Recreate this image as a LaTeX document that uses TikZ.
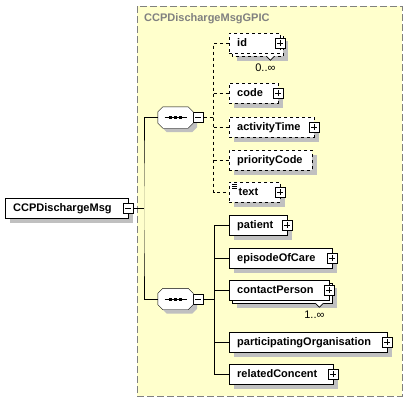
\documentclass[tikz,border=0pt]{standalone}
\usepackage{fontspec}
\setmainfont{Liberation Sans}
\definecolor{groupfill}{HTML}{FFFFCC}
\definecolor{shadowgray}{HTML}{C0C0C0}
\definecolor{titlegray}{HTML}{808080}
\pgfdeclarelayer{bg}
\pgfdeclarelayer{shade}
\pgfsetlayers{bg,shade,main}
\newcommand{\seqoutline}[1]{([xshift=5pt]#1.north west) -- ([xshift=-5pt]#1.north east)
  -- ([yshift=-5pt]#1.north east) -- ([yshift=5pt]#1.south east)
  -- ([xshift=-5pt]#1.south east) -- ([xshift=5pt]#1.south west)
  -- ([yshift=5pt]#1.south west) -- ([yshift=-5pt]#1.north west) -- cycle}

\begin{document}
\begin{tikzpicture}[x=1pt,y=-1pt,line width=0.9pt,
    elem/.style={draw,fill=white,anchor=west,minimum height=20pt,inner xsep=8pt,inner ysep=0pt,
      text height=8pt,text depth=2pt,align=left,font=\fontsize{11}{13}\selectfont\bfseries},
    opt/.style={dashed},
    boxsign/.style={draw,solid,fill=white,minimum size=10pt,inner sep=0pt,line width=0.8pt},
    plusbox/.style={boxsign,anchor=center,label distance=0pt,
      path picture={\draw ([xshift=-3pt]path picture bounding box.center) -- ([xshift=3pt]path picture bounding box.center);
        \draw ([yshift=-3pt]path picture bounding box.center) -- ([yshift=3pt]path picture bounding box.center);}},
    minusbox/.style={boxsign,
      path picture={\draw ([xshift=-3pt]path picture bounding box.center) -- ([xshift=3pt]path picture bounding box.center);}},
    plus/.style={label={[plusbox]east:}},
    seqbox/.style={minimum width=35pt,minimum height=21pt,inner sep=0pt},
    notch/.style={fill=white,line width=0.7pt},
    card/.style={inner sep=0pt,font=\fontsize{11}{13}\selectfont},
    groupbox/.style={draw=titlegray,fill=groupfill,dash pattern=on 7pt off 3pt,line width=0.9pt}]

  \useasboundingbox (0,0) rectangle (407,402);

  % group
  \begin{pgfonlayer}{bg}
    \draw[groupbox] (137,6) rectangle (402,396);
  \end{pgfonlayer}
  \node[anchor=west,inner sep=0pt,text=titlegray,font=\fontsize{11}{13}\selectfont\bfseries] (title) at (144,19) {CCPDischargeMsgGPIC};

  % root element
  \node[elem,text width=107pt,label={[minusbox,name=mainminus,anchor=center,label distance=0pt]east:}] (main) at (5,208) {CCPDischargeMsg};

  % compositors
  \node[seqbox,label={[minusbox,name=seqaminus,anchor=west,label distance=-0.5pt]east:}] (seqa) at (175.5,117.5) {};
  \node[seqbox,label={[minusbox,name=seqbminus,anchor=west,label distance=-0.5pt]east:}] (seqb) at (175.5,299) {};
  \foreach \s in {seqa,seqb} {
    \draw[fill=white] \seqoutline{\s};
    \draw ([xshift=-11pt]\s.center) -- ([xshift=11pt]\s.center);
    \foreach \d in {-5,0,5}
      \fill ([xshift=\d pt]\s.center) +(-1.5,-1.5) rectangle +(1.5,1.5);
  }

  % first sequence (optional children)
  \node[elem,opt,plus,text width=35pt] (id) at (229,43) {id};
  \node[elem,opt,plus,text width=33pt] (code) at (229,93) {code};
  \node[elem,opt,plus,text width=69pt] (activityTime) at (229,127) {activityTime};
  \node[elem,opt,text width=67pt] (priorityCode) at (229,160) {priorityCode};
  \node[elem,opt,plus,text width=32pt,inner xsep=9.5pt] (txt) at (229,192) {text};

  % second sequence
  \node[elem,plus,text width=42pt] (patient) at (229,225) {patient};
  \node[elem,plus,text width=87pt] (episodeOfCare) at (229,258) {episodeOfCare};
  \node[elem,plus,text width=84pt] (contactPerson) at (229,290) {contactPerson};
  \node[elem,plus,text width=142pt] (participatingOrganisation) at (229,342) {participatingOrganisation};
  \node[elem,plus,text width=88pt] (relatedConcent) at (229,374) {relatedConcent};

  % shadows and stacked copies
  \begin{pgfonlayer}{shade}
    \foreach \n in {main,code,activityTime,priorityCode,txt,patient,episodeOfCare,participatingOrganisation,relatedConcent}
      \fill[shadowgray] ([shift={(5,5)}]\n.north west) rectangle ([shift={(5,5)}]\n.south east);
    \foreach \n/\d in {id/dashed,contactPerson/solid} {
      \fill[shadowgray] ([shift={(8,8)}]\n.north west) rectangle ([shift={(8,8)}]\n.south east);
      \draw[fill=white,\d] ([shift={(3,3)}]\n.north west) rectangle ([shift={(3,3)}]\n.south east);
    }
    \node[seqbox] (seqashadow) at ([shift={(4,4)}]seqa.center) {};
    \node[seqbox] (seqbshadow) at ([shift={(4,4)}]seqb.center) {};
    \foreach \s in {seqashadow,seqbshadow}
      \fill[shadowgray] \seqoutline{\s};
  \end{pgfonlayer}

  % mixed content mark
  \foreach \k in {2,4,6}
    \draw[line width=0.6pt] ([shift={(3,\k)}]txt.north west) -- ++(5,0);

  % occurrence marks
  \coordinate (idnotch) at ([shift={(-10,3)}]id.south east);
  \draw[notch] (idnotch) +(-4,0) -- +(0,4) -- +(4,0);
  \node[card] (idcard) at ([shift={(-5,12)}]idnotch) {0..∞};
  \coordinate (cpnotch) at ([shift={(-10,3)}]contactPerson.south east);
  \draw[notch] (cpnotch) +(-4,0) -- +(0,4) -- +(4,0);
  \node[card] (cpcard) at ([shift={(-5,12)}]cpnotch) {1..∞};

  % connectors
  \coordinate (trunk) at ([xshift=10pt]mainminus.east);
  \draw (mainminus.east) -- (trunk);
  \draw (seqa.west) -| (trunk) |- (seqb.west);

  \coordinate (busa) at ([xshift=10pt]seqaminus.east);
  \draw[dashed] (seqaminus.east) -- (busa);
  \draw[dashed] (id.west) -| (busa) |- (txt.west);
  \foreach \n in {code,activityTime,priorityCode}
    \draw[dashed] (busa |- \n.west) -- (\n.west);

  \coordinate (busb) at ([xshift=11pt]seqbminus.east);
  \draw (seqbminus.east) -- (busb);
  \draw (patient.west) -| (busb) |- (relatedConcent.west);
  \foreach \n in {episodeOfCare,contactPerson,participatingOrganisation}
    \draw (busb |- \n.west) -- (\n.west);
\end{tikzpicture}
\end{document}
